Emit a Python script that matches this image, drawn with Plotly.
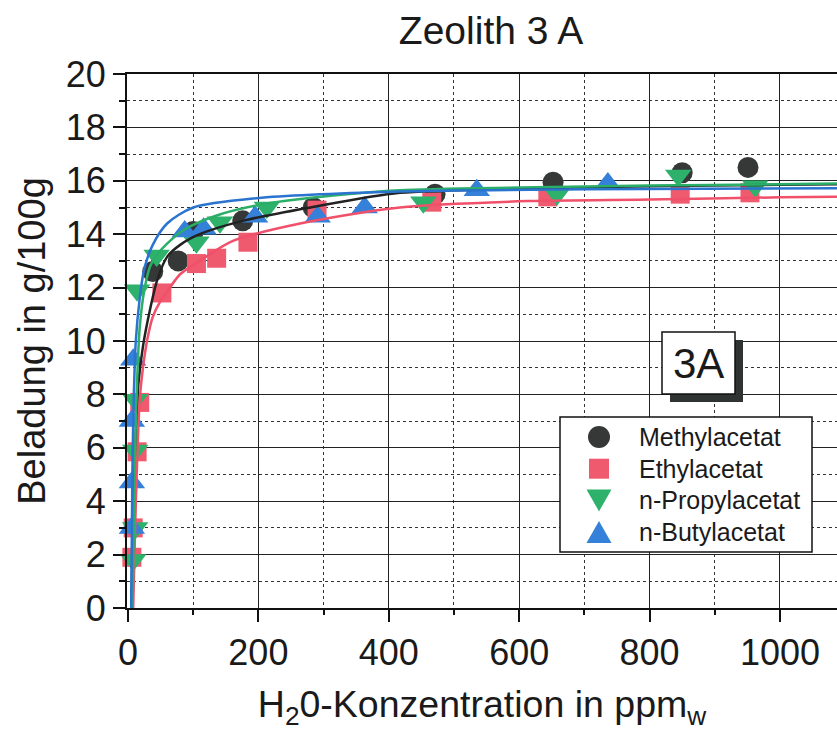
import plotly.graph_objects as go

# ---- measured adsorption data (H2O loading on zeolite 3A) ----
me_x = [38, 77, 100, 176, 284, 471, 652, 850, 951]
me_y = [12.6, 13.0, 14.1, 14.5, 15.0, 15.5, 15.95, 16.3, 16.5]

et_x = [6, 8, 14, 18, 52, 105, 136, 184, 290, 466, 644, 847, 954]
et_y = [1.9, 3.0, 5.85, 7.7, 11.8, 12.9, 13.1, 13.7, 14.9, 15.2, 15.4, 15.5, 15.55]

pr_x = [8, 11, 11, 11, 14, 44, 105, 141, 213, 453, 658, 844, 962]
pr_y = [1.8, 3.0, 5.9, 7.8, 11.9, 13.2, 13.7, 14.45, 15.0, 15.2, 15.5, 16.2, 15.8]

bu_x = [6, 6, 6, 8, 87, 116, 195, 291, 363, 535, 736]
bu_y = [3.0, 4.7, 7.0, 9.3, 14.1, 14.2, 14.65, 14.65, 15.0, 15.65, 15.9]

# ---- fitted isotherm curves ----
me_fit_x = [5, 8, 12, 16, 23, 34, 45, 60, 80, 110, 176, 280, 417, 600, 800, 1000, 1090]
me_fit_y = [0, 3.5, 6.5, 8.4, 9.8, 11.2, 12.3, 13.15, 13.6, 14.0, 14.5, 15.0, 15.55, 15.7, 15.8, 15.85, 15.87]

et_fit_x = [8, 11, 14, 18, 23, 30, 38, 50, 60, 80, 110, 161, 264, 417, 613, 800, 1000, 1090]
et_fit_y = [0, 3.0, 5.5, 7.8, 9.0, 10.1, 10.9, 11.5, 11.85, 12.5, 13.0, 13.75, 14.4, 15.0, 15.24, 15.3, 15.38, 15.4]

pr_fit_x = [7, 9, 11, 14, 18, 25, 34, 45, 60, 85, 136, 213, 315, 417, 600, 800, 1000, 1090]
pr_fit_y = [0, 3.0, 6.0, 8.5, 10.5, 11.9, 12.8, 13.25, 13.65, 14.15, 14.7, 15.15, 15.45, 15.65, 15.75, 15.82, 15.87, 15.9]

bu_fit_x = [5, 6, 7, 9, 12, 18, 25, 38, 60, 100, 197, 417, 700, 1090]
bu_fit_y = [0, 3.0, 5.5, 8.0, 10.0, 11.6, 12.7, 13.6, 14.4, 15.0, 15.35, 15.6, 15.68, 15.72]

names = ["Methylacetat", "Ethylacetat", "n-Propylacetat", "n-Butylacetat"]

FONT = "Liberation Sans, Arial, sans-serif"
TXT = "#1a1a1a"

marker_styles = [
    dict(symbol="circle", size=21, color="#363838"),
    dict(symbol="square", size=19, color="#ef5a6f"),
    dict(symbol="triangle-down", size=23, color="#2eb26b"),
    dict(symbol="triangle-up", size=23, color="#3580d8"),
]
line_colors = ["#222222", "#f0506a", "#2bae67", "#2a74d0"]

points = [(me_x, me_y), (et_x, et_y), (pr_x, pr_y), (bu_x, bu_y)]
fits = [(me_fit_x, me_fit_y), (et_fit_x, et_fit_y), (pr_fit_x, pr_fit_y), (bu_fit_x, bu_fit_y)]

# plot area in pixels
L, R, T, B = 127, 837, 74, 608
W, H = 837, 731

fig = go.Figure()

for (px, py), name, ms in zip(points, names, marker_styles):
    fig.add_trace(go.Scatter(
        x=px, y=py, mode="markers", name=name, showlegend=False,
        marker=dict(symbol=ms["symbol"], size=ms["size"], color=ms["color"],
                    line=dict(width=0)),
        cliponaxis=False,
    ))

for (fx, fy), col in zip(fits, line_colors):
    fig.add_trace(go.Scatter(
        x=fx, y=fy, mode="lines", showlegend=False,
        line=dict(color=col, width=2.5, shape="spline", smoothing=0.8),
    ))


def px2paper(x, y):
    return (x - L) / (R - L), (B - y) / (B - T)


def add_rect_px(x0, y0, x1, y1, **kw):
    a0, b0 = px2paper(x0, y1)
    a1, b1 = px2paper(x1, y0)
    fig.add_shape(type="rect", xref="paper", yref="paper",
                  x0=a0, y0=b0, x1=a1, y1=b1, layer="above", **kw)


# ---- framed "3A" label with drop shadow ----
add_rect_px(670, 340, 743, 402, fillcolor="#2f3433", line=dict(width=0))
add_rect_px(662, 332, 735, 394, fillcolor="white", line=dict(color="#111", width=1.5))
cx, cy = px2paper((662 + 735) / 2, (332 + 394) / 2)
fig.add_annotation(xref="paper", yref="paper", x=cx, y=cy,
                   text="3A", showarrow=False, font=dict(family=FONT, size=42, color=TXT),
                   xanchor="center", yanchor="middle")

# ---- legend box with symbol keys ----
lg_x0, lg_y0, lg_x1, lg_y1 = 560, 417, 812, 552
lg_key_x, lg_text_x = 599, 637
lg_row0, lg_row_step = 437, 31.7

add_rect_px(lg_x0, lg_y0, lg_x1, lg_y1, fillcolor="white", line=dict(color="#111", width=1.5))


def key_shape(symbol, color, kx, ky):
    if symbol == "circle":
        r = 11
        add_rect_kw = dict(type="circle")
        a0, b0 = px2paper(kx - r, ky + r)
        a1, b1 = px2paper(kx + r, ky - r)
        fig.add_shape(type="circle", xref="paper", yref="paper", x0=a0, y0=b0, x1=a1, y1=b1,
                      fillcolor=color, line=dict(width=0), layer="above")
    elif symbol == "square":
        h = 10
        add_rect_px(kx - h, ky - h, kx + h, ky + h, fillcolor=color, line=dict(width=0))
    else:
        hw, hh = 12.5, 11
        if symbol == "triangle-down":
            pts = [(kx - hw, ky - hh), (kx + hw, ky - hh), (kx, ky + hh)]
        else:
            pts = [(kx - hw, ky + hh), (kx + hw, ky + hh), (kx, ky - hh)]
        pp = [px2paper(a, b) for a, b in pts]
        path = "M{:.5f},{:.5f} L{:.5f},{:.5f} L{:.5f},{:.5f} Z".format(
            pp[0][0], pp[0][1], pp[1][0], pp[1][1], pp[2][0], pp[2][1])
        fig.add_shape(type="path", xref="paper", yref="paper", path=path,
                      fillcolor=color, line=dict(width=0), layer="above")


for i, (name, ms) in enumerate(zip(names, marker_styles)):
    ry = lg_row0 + i * lg_row_step
    key_shape(ms["symbol"], ms["color"], lg_key_x, ry)
    tx, ty = px2paper(lg_text_x, ry)
    fig.add_annotation(xref="paper", yref="paper", x=tx, y=ty, text=name,
                       showarrow=False, xanchor="left", yanchor="middle",
                       font=dict(family=FONT, size=25, color=TXT))

axis_common = dict(
    showline=True, linecolor="#111", linewidth=2,
    ticks="outside", ticklen=12, tickwidth=1.5, tickcolor="#111",
    showgrid=True, gridcolor="#222", gridwidth=1.3,
    zeroline=False,
    tickfont=dict(family=FONT, size=36, color=TXT),
)

xaxis = dict(
    **axis_common,
    range=[-1.5, 1087.5], tick0=0, dtick=200,
    mirror=True,
    minor=dict(dtick=100, ticks="outside", ticklen=5, tickcolor="#111",
               showgrid=True, griddash="dot", gridcolor="#333", gridwidth=1),
    title=dict(text="H<sub>2</sub>0-Konzentration in ppm<sub>w</sub>",
               font=dict(family=FONT, size=37.5, color=TXT), standoff=28),
)
yaxis = dict(
    **axis_common,
    range=[0, 20], tick0=0, dtick=2,
    minor=dict(dtick=1, ticks="outside", ticklen=6, tickcolor="#111",
               showgrid=True, griddash="dot", gridcolor="#333", gridwidth=1),
    title=dict(text="Beladung in g/100g",
               font=dict(family=FONT, size=38, color=TXT), standoff=8),
)

fig.update_layout(
    width=W, height=H,
    margin=dict(l=L, r=W - R, t=T, b=H - B),
    paper_bgcolor="white", plot_bgcolor="white",
    font=dict(family=FONT, color=TXT),
    title=dict(text="Zeolith 3 A", x=491 / W, xref="container", xanchor="center",
               y=1 - 30 / H, yref="container", yanchor="middle",
               font=dict(family=FONT, size=39, color=TXT)),
    showlegend=False,
    xaxis=xaxis,
    yaxis=yaxis,
)

fig.write_html("out.html")
